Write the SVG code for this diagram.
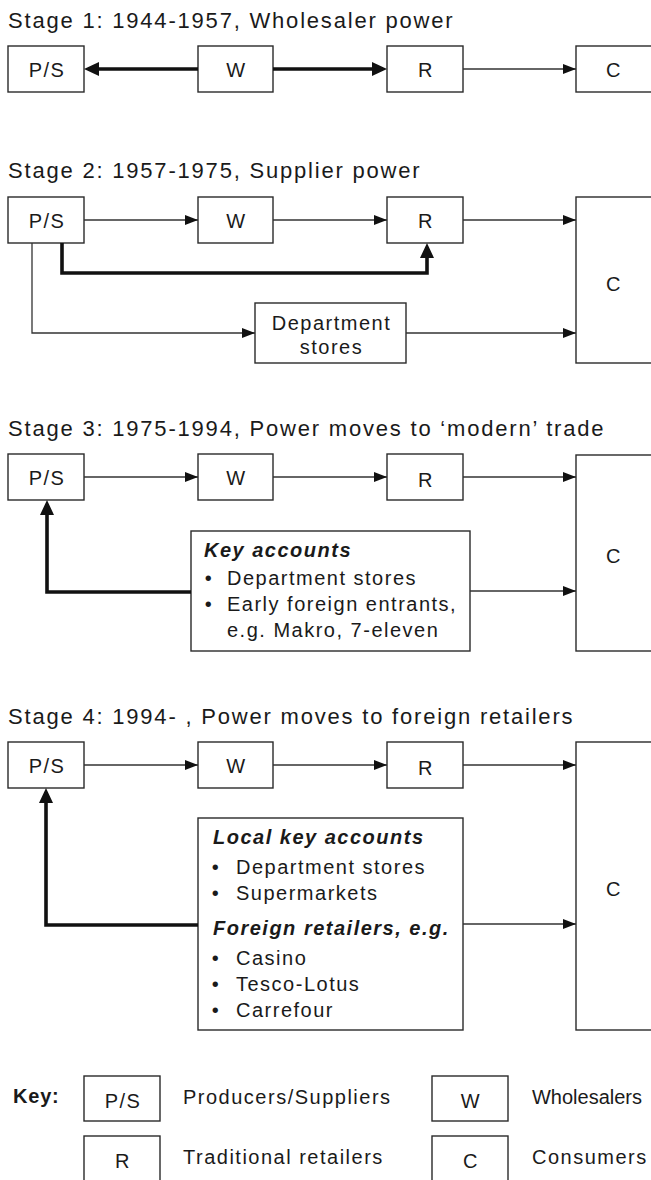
<svg xmlns="http://www.w3.org/2000/svg" width="651" height="1180" viewBox="0 0 651 1180">
<style>
text{font-family:"Liberation Sans",Arial,sans-serif;fill:#1a1a1a}
.t{font-size:22px;letter-spacing:1.8px}
.b{font-size:20px;letter-spacing:1.5px}
.c{text-anchor:middle}
.bi{font-size:20px;letter-spacing:1.5px;font-weight:bold;font-style:italic}
.box{fill:#fff;stroke:#2a2a2a;stroke-width:1.4}
.ln{fill:none;stroke:#333;stroke-width:1.3}
.th{fill:none;stroke:#111;stroke-width:3.6;stroke-linejoin:miter}
</style>
<defs>
<marker id="ah" markerUnits="userSpaceOnUse" markerWidth="14" markerHeight="11" refX="13" refY="5" orient="auto"><path d="M0,0 L13,5 L0,10 z" fill="#111"/></marker>
<marker id="ahT" markerUnits="userSpaceOnUse" markerWidth="16" markerHeight="15" refX="11" refY="7" orient="auto"><path d="M0,0 L15,7 L0,14 z" fill="#111"/></marker>
</defs>

<!-- Stage 1 -->
<text class="t" x="8" y="28">Stage 1: 1944-1957, Wholesaler power</text>
<g id="s1-ps"><rect class="box" x="8" y="46" width="76" height="46"/><text class="b c" x="47" y="77">P/S</text></g>
<g id="s1-w"><rect class="box" x="198" y="46" width="75" height="46"/><text class="b c" x="236.5" y="77">W</text></g>
<g id="s1-r"><rect class="box" x="387" y="46" width="76" height="46"/><text class="b c" x="426" y="77">R</text></g>
<g id="s1-c"><rect class="box" x="576" y="46" width="90" height="46"/><text class="b c" x="614" y="77">C</text></g>

<!-- Stage 2 -->
<text class="t" x="8" y="178">Stage 2: 1957-1975, Supplier power</text>
<g id="s2-ps"><rect class="box" x="8" y="197" width="76" height="46"/><text class="b c" x="47" y="228">P/S</text></g>
<g id="s2-w"><rect class="box" x="198" y="197" width="75" height="46"/><text class="b c" x="236.5" y="228">W</text></g>
<g id="s2-r"><rect class="box" x="387" y="197" width="76" height="46"/><text class="b c" x="426" y="228">R</text></g>
<g id="s2-d"><rect class="box" x="255" y="303" width="151" height="60"/><text class="b c" x="331.5" y="330">Department</text><text class="b c" x="331.5" y="354">stores</text></g>
<g id="s2-c"><rect class="box" x="576" y="197" width="90" height="166"/><text class="b c" x="614" y="291">C</text></g>

<!-- Stage 3 -->
<text class="t" x="8" y="436">Stage 3: 1975-1994, Power moves to ‘modern’ trade</text>
<g id="s3-ps"><rect class="box" x="8" y="454" width="76" height="46"/><text class="b c" x="47" y="485">P/S</text></g>
<g id="s3-w"><rect class="box" x="198" y="454" width="75" height="46"/><text class="b c" x="236.5" y="485">W</text></g>
<g id="s3-r"><rect class="box" x="387" y="454" width="76" height="46"/><text class="b c" x="426" y="487">R</text></g>
<g id="s3-k"><rect class="box" x="191" y="531" width="279" height="120"/>
<text class="bi" x="204" y="557">Key accounts</text>
<text class="b c" x="209" y="585">•</text><text class="b" x="227" y="585">Department stores</text>
<text class="b c" x="209" y="611">•</text><text class="b" x="227" y="611">Early foreign entrants,</text>
<text class="b" x="227" y="637">e.g. Makro, 7-eleven</text></g>
<g id="s3-c"><rect class="box" x="576" y="455" width="90" height="196"/><text class="b c" x="614" y="563">C</text></g>

<!-- Stage 4 -->
<text class="t" x="8" y="724">Stage 4: 1994- , Power moves to foreign retailers</text>
<g id="s4-ps"><rect class="box" x="8" y="742" width="76" height="46"/><text class="b c" x="47" y="773">P/S</text></g>
<g id="s4-w"><rect class="box" x="198" y="742" width="75" height="46"/><text class="b c" x="236.5" y="773">W</text></g>
<g id="s4-r"><rect class="box" x="387" y="742" width="76" height="46"/><text class="b c" x="426" y="775">R</text></g>
<g id="s4-k"><rect class="box" x="198" y="818" width="265" height="212"/>
<text class="bi" x="213" y="844">Local key accounts</text>
<text class="b c" x="216" y="874">•</text><text class="b" x="236" y="874">Department stores</text>
<text class="b c" x="216" y="900">•</text><text class="b" x="236" y="900">Supermarkets</text>
<text class="bi" x="213" y="935">Foreign retailers, e.g.</text>
<text class="b c" x="216" y="965">•</text><text class="b" x="236" y="965">Casino</text>
<text class="b c" x="216" y="991">•</text><text class="b" x="236" y="991">Tesco-Lotus</text>
<text class="b c" x="216" y="1017">•</text><text class="b" x="236" y="1017">Carrefour</text></g>
<g id="s4-c"><rect class="box" x="576" y="742" width="90" height="288"/><text class="b c" x="614" y="896">C</text></g>

<!-- Key -->
<g id="key">
<text x="13" y="1103" style="font-size:20px;font-weight:bold;letter-spacing:0.8px">Key:</text>
<rect class="box" x="84" y="1076" width="76" height="45"/><text class="b c" x="123" y="1108">P/S</text>
<text class="b" x="183" y="1104">Producers/Suppliers</text>
<rect class="box" x="432" y="1076" width="76" height="45"/><text class="b c" x="471" y="1108">W</text>
<text x="532" y="1104" style="font-size:20px;letter-spacing:0" textLength="110" lengthAdjust="spacingAndGlyphs">Wholesalers</text>
<rect class="box" x="84" y="1136" width="76" height="50"/><text class="b c" x="123" y="1168">R</text>
<text class="b" x="183" y="1164">Traditional retailers</text>
<rect class="box" x="432" y="1136" width="76" height="50"/><text class="b c" x="471" y="1168">C</text>
<text class="b" x="532" y="1164">Consumers</text>
</g>

<g id="connectors">
<!-- stage 1 -->
<path class="th" d="M198,69 H88" marker-end="url(#ahT)"/>
<path class="th" d="M273,69 H383" marker-end="url(#ahT)"/>
<path class="ln" d="M463,69 H576" marker-end="url(#ah)"/>
<!-- stage 2 -->
<path class="ln" d="M84,220 H198" marker-end="url(#ah)"/>
<path class="ln" d="M273,220 H387" marker-end="url(#ah)"/>
<path class="ln" d="M463,220 H576" marker-end="url(#ah)"/>
<path class="th" d="M62,243 V273 H427 V247" marker-end="url(#ahT)"/>
<path class="ln" d="M32,243 V333 H255" marker-end="url(#ah)"/>
<path class="ln" d="M406,333 H576" marker-end="url(#ah)"/>
<!-- stage 3 -->
<path class="ln" d="M84,477 H198" marker-end="url(#ah)"/>
<path class="ln" d="M273,477 H387" marker-end="url(#ah)"/>
<path class="ln" d="M463,477 H576" marker-end="url(#ah)"/>
<path class="th" d="M191,592 H47 V504" marker-end="url(#ahT)"/>
<path class="ln" d="M470,591 H576" marker-end="url(#ah)"/>
<!-- stage 4 -->
<path class="ln" d="M84,765 H198" marker-end="url(#ah)"/>
<path class="ln" d="M273,765 H387" marker-end="url(#ah)"/>
<path class="ln" d="M463,765 H576" marker-end="url(#ah)"/>
<path class="th" d="M198,925 H46 V792" marker-end="url(#ahT)"/>
<path class="ln" d="M463,924 H576" marker-end="url(#ah)"/>
</g>
</svg>
